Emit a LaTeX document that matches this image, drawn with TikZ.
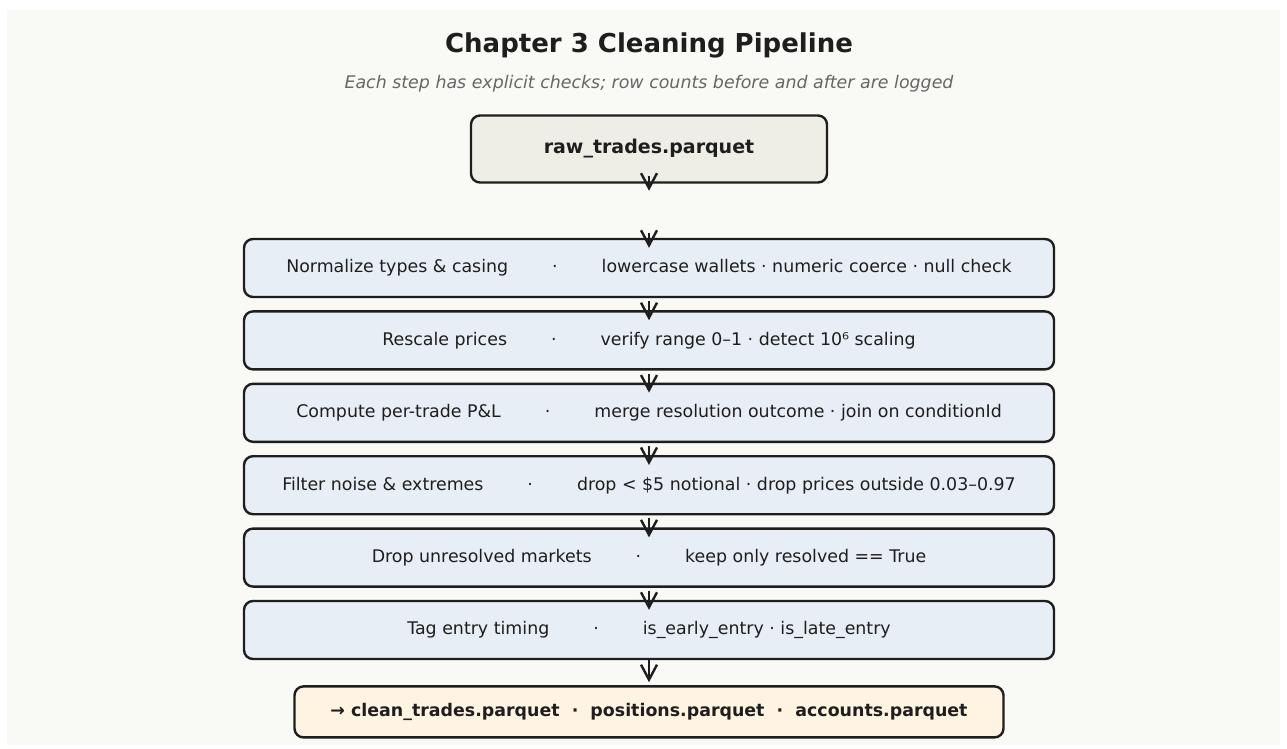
\documentclass[tikz,border=0pt]{standalone}
\usepackage{fontspec}
\setmainfont{DejaVu Sans}
\usetikzlibrary{positioning, arrows.meta}

\definecolor{bgcol}{HTML}{F9F9F5}
\definecolor{inkcol}{HTML}{1E1E1E}
\definecolor{subcol}{HTML}{666666}
\definecolor{rawfill}{HTML}{EEEEE6}
\definecolor{stepfill}{HTML}{E8EEF5}
\definecolor{outfill}{HTML}{FFF4E1}

\newcommand{\gapdot}{\hspace{44pt}·\hspace{44pt}}

\begin{document}
\begin{tikzpicture}[
        x=1pt, y=-1pt,
        node distance=12pt and 12pt,
        base/.style={draw=inkcol, line width=2.4pt, rounded corners=9pt, align=center, text=inkcol, inner sep=4pt},
        rawbox/.style={base, fill=rawfill, minimum width=356pt, minimum height=67pt, font=\fontsize{19}{23}\selectfont\bfseries},
        stepbox/.style={base, fill=stepfill, minimum width=810pt, minimum height=58pt, font=\fontsize{17.4}{21}\selectfont},
        outbox/.style={base, fill=outfill, minimum width=709pt, minimum height=51pt, font=\fontsize{17.4}{21}\selectfont\bfseries},
        arr/.style={-{Straight Barb[length=15pt, width=16pt, line width=2.4pt]}, line width=2.4pt, draw=inkcol}
    ]
    \useasboundingbox (0,0) rectangle (1287,748);
    \fill[bgcol] (7,10) rectangle (1280,745);

    \node[text=inkcol, font=\fontsize{26}{30}\selectfont\bfseries] (title) at (649,45) {Chapter 3 Cleaning Pipeline};
    \node[text=subcol, font=\fontsize{17.4}{21}\selectfont\itshape] (sub) at (649,84) {Each step has explicit checks; row counts before and after are logged};

    \node[rawbox] (raw) at (649,149) {raw\_trades.parquet};

    \node[stepbox] (s1) at (649,268) {Normalize types \& casing\gapdot lowercase wallets · numeric coerce · null check};
    \node[stepbox, below=of s1] (s2) {Rescale prices\gapdot verify range 0–1 · detect 10⁶ scaling};
    \node[stepbox, below=of s2] (s3) {Compute per-trade P\&L\gapdot merge resolution outcome · join on conditionId};
    \node[stepbox, below=of s3] (s4) {Filter noise \& extremes\gapdot drop < \$5 notional · drop prices outside 0.03–0.97};
    \node[stepbox, below=of s4] (s5) {Drop unresolved markets\gapdot keep only resolved == True};
    \node[stepbox, below=of s5] (s6) {Tag entry timing\gapdot is\_early\_entry · is\_late\_entry};

    \node[outbox, below=25pt of s6] (out) {→ clean\_trades.parquet\ \ ·\ \ positions.parquet\ \ ·\ \ accounts.parquet};

    \draw[arr] ([yshift=8pt]raw.south) -- ([yshift=-7pt]raw.south);
    \draw[arr] ([yshift=5pt]s1.north) -- ([yshift=-10pt]s1.north);
    \draw[arr] ([yshift=-3pt]s1.south) -- ([yshift=-10pt]s2.north);
    \draw[arr] ([yshift=-3pt]s2.south) -- ([yshift=-10pt]s3.north);
    \draw[arr] ([yshift=-3pt]s3.south) -- ([yshift=-10pt]s4.north);
    \draw[arr] ([yshift=-3pt]s4.south) -- ([yshift=-10pt]s5.north);
    \draw[arr] ([yshift=-3pt]s5.south) -- ([yshift=-10pt]s6.north);
    \draw[arr, shorten >=3pt] (s6.south) -- (out.north);
\end{tikzpicture}
\end{document}
